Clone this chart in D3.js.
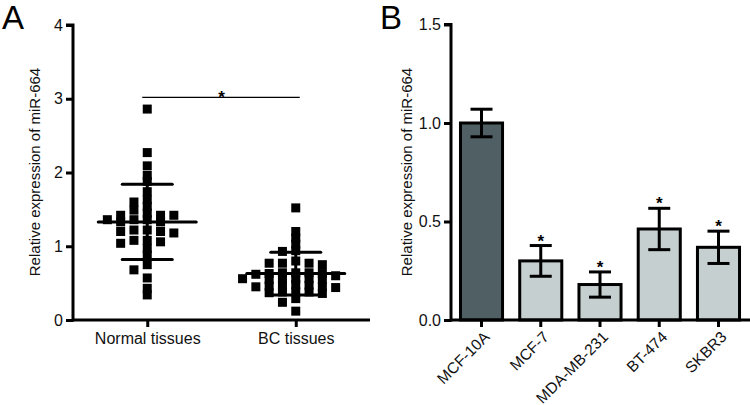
<!DOCTYPE html>
<html><head><meta charset="utf-8">
<script src="https://cdn.jsdelivr.net/npm/d3@7"></script>
<style>
body{margin:0;background:#fff;}
svg{display:block;font-family:"Liberation Sans",Arial,sans-serif;}
</style></head>
<body>
<svg id="chart" width="750" height="405"></svg>
<script>
// ---------- Panel A data ----------
const groupsA = ["Normal tissues", "BC tissues"];
const normalValues = [2.86, 2.27, 2.09, 1.96, 1.88, 1.74, 1.63, 1.60, 1.54, 1.49, 1.45, 1.42, 1.42, 1.42,
  1.36, 1.36, 1.33, 1.33, 1.36, 1.22, 1.20, 1.20, 1.18, 1.22, 1.08, 1.08, 1.04, 1.06, 0.97, 0.88,
  0.75, 0.68, 0.57, 0.43, 0.34];
const bcValues = [1.52, 1.20, 1.11, 1.03, 0.93, 0.94, 0.77, 0.77, 0.75, 0.77, 0.80, 0.64, 0.64, 0.63,
  0.62, 0.64, 0.63, 0.60, 0.56, 0.56, 0.55, 0.56, 0.56, 0.55, 0.47, 0.45, 0.47, 0.48, 0.46, 0.45,
  0.44, 0.38, 0.36, 0.37, 0.38, 0.38, 0.29, 0.24, 0.12];
const groupMeans = [1.33, 0.63];
const groupSD = [0.51, 0.29];
const yTicksA = [0, 1, 2, 3, 4];
const yLabel = "Relative expression of miR-664";

// ---------- Panel B data ----------
const cellLines = ["MCF-10A", "MCF-7", "MDA-MB-231", "BT-474", "SKBR3"];
const barValues = [1.00, 0.30, 0.18, 0.462, 0.369];
const barErrors = [0.07, 0.078, 0.064, 0.105, 0.082];
const barSignif = ["", "*", "*", "*", "*"];
const yTicksB = [0, 0.5, 1.0, 1.5];

const svg = d3.select("#chart");
const AX = "#000";
const FS = 16;

function styleAxis(a) {
  a.selectAll(".domain").attr("stroke", AX).attr("stroke-width", 3);
  a.selectAll(".tick line").attr("stroke", AX).attr("stroke-width", 3);
  a.selectAll("text").attr("font-size", FS).attr("fill", "#111")
    .attr("font-family", "Liberation Sans, Arial, sans-serif");
}

// ================= Panel A =================
const yA = d3.scaleLinear().domain([0, 4]).range([320, 25]);
const xA = d3.scalePoint().domain(groupsA).range([73, 370]).padding(0.5);
const gA = svg.append("g");

gA.append("text").attr("x", 2).attr("y", 29).attr("font-size", 33).text("A");

const yAxisA = gA.append("g").attr("transform", "translate(73,0)")
  .call(d3.axisLeft(yA).tickValues(yTicksA).tickFormat(d3.format("d")).tickSize(7).tickPadding(3));
const xAxisA = gA.append("g").attr("transform", "translate(0,320)")
  .call(d3.axisBottom(xA).tickSize(7).tickPadding(6));
styleAxis(yAxisA); styleAxis(xAxisA);
xAxisA.select(".domain").attr("d", "M73,0H370");
yAxisA.select(".domain").attr("d", "M-7,25H0V321.5");

gA.append("text").attr("transform", "translate(40,172) rotate(-90)")
  .attr("text-anchor", "middle").attr("font-size", 15).attr("fill", "#111").text(yLabel);

// beeswarm-style column layout
const SQ = 9, STEP = 13.3, MINDY = 5.8;
function layout(values) {
  const placed = [];
  const order = values.map((v, i) => i).sort((a, b) => values[b] - values[a]);
  order.forEach(i => {
    const py = yA(values[i]);
    for (let k = 0; k < 20; k++) {
      const slot = k === 0 ? 0 : (k % 2 ? -Math.ceil(k / 2) : Math.ceil(k / 2));
      const hit = placed.some(p => p.slot === slot && Math.abs(p.py - py) < MINDY);
      if (!hit) { placed.push({ slot, py, v: values[i] }); break; }
    }
  });
  return placed;
}
[normalValues, bcValues].forEach((vals, gi) => {
  const cx = xA(groupsA[gi]);
  const pts = layout(vals);
  gA.append("g").selectAll("rect").data(pts).join("rect")
    .attr("x", d => cx + d.slot * STEP - SQ / 2)
    .attr("y", d => yA(d.v) - SQ / 2)
    .attr("width", SQ).attr("height", SQ).attr("fill", "#000");
  const m = groupMeans[gi], s = groupSD[gi];
  const lg = gA.append("g").attr("stroke", "#000").attr("stroke-width", 3).attr("stroke-linecap", "round");
  lg.append("line").attr("x1", cx - 49).attr("x2", cx + 49).attr("y1", yA(m)).attr("y2", yA(m));
  lg.append("line").attr("x1", cx - 25).attr("x2", cx + 25).attr("y1", yA(m + s)).attr("y2", yA(m + s));
  lg.append("line").attr("x1", cx - 25).attr("x2", cx + 25).attr("y1", yA(m - s)).attr("y2", yA(m - s));
  lg.append("line").attr("x1", cx).attr("x2", cx).attr("y1", yA(m + s)).attr("y2", yA(m - s));
});

// significance bar
const sigY = yA(3.02);
gA.append("line").attr("x1", xA(groupsA[0]) - 5).attr("x2", xA(groupsA[1]) + 4)
  .attr("y1", sigY).attr("y2", sigY).attr("stroke", "#000").attr("stroke-width", 1.3);
gA.append("text").attr("x", (xA(groupsA[0]) + xA(groupsA[1])) / 2).attr("y", sigY + 6)
  .attr("text-anchor", "middle").attr("font-size", 17).attr("font-weight", "bold").text("*");

// ================= Panel B =================
const yB = d3.scaleLinear().domain([0, 1.5]).range([320, 24.5]);
const xB = d3.scaleBand().domain(cellLines).range([451, 749]).paddingInner(0.29).paddingOuter(0.16);
const gB = svg.append("g");

gB.append("text").attr("x", 380).attr("y", 29).attr("font-size", 33).text("B");

const bars = gB.append("g").selectAll("g").data(cellLines).join("g");
bars.append("rect")
  .attr("x", d => xB(d)).attr("width", xB.bandwidth())
  .attr("y", (d, i) => yB(barValues[i])).attr("height", (d, i) => yB(0) - yB(barValues[i]))
  .attr("fill", (d, i) => i === 0 ? "#505f63" : "#c6cfd0")
  .attr("stroke", "#000").attr("stroke-width", 3);
const CAP = 11;
bars.each(function (d, i) {
  const g = d3.select(this), cx = xB(d) + xB.bandwidth() / 2;
  const hi = yB(barValues[i] + barErrors[i]), lo = yB(barValues[i] - barErrors[i]);
  const e = g.append("g").attr("stroke", "#000").attr("stroke-width", 3);
  e.append("line").attr("x1", cx).attr("x2", cx).attr("y1", hi).attr("y2", lo);
  e.append("line").attr("x1", cx - CAP).attr("x2", cx + CAP).attr("y1", hi).attr("y2", hi);
  e.append("line").attr("x1", cx - CAP).attr("x2", cx + CAP).attr("y1", lo).attr("y2", lo);
  if (barSignif[i]) g.append("text").attr("x", cx).attr("y", hi + 1).attr("text-anchor", "middle")
    .attr("font-size", 17).attr("font-weight", "bold").text(barSignif[i]);
});

const yAxisB = gB.append("g").attr("transform", "translate(451,0)")
  .call(d3.axisLeft(yB).tickValues(yTicksB).tickFormat(d3.format(".1f")).tickSize(7).tickPadding(3));
const xAxisB = gB.append("g").attr("transform", "translate(0,320)")
  .call(d3.axisBottom(xB).tickSize(7));
styleAxis(yAxisB); styleAxis(xAxisB);
xAxisB.select(".domain").attr("d", "M451,0H750");
yAxisB.select(".domain").attr("d", "M-7,24.5H0V321.5");
xAxisB.selectAll(".tick text")
  .attr("font-size", 15.5)
  .attr("text-anchor", "end").attr("dy", 0).attr("y", 0)
  .attr("transform", "translate(9,18) rotate(-45)");

gB.append("text").attr("transform", "translate(412,172) rotate(-90)")
  .attr("text-anchor", "middle").attr("font-size", 15).attr("fill", "#111").text(yLabel);
</script>
</body></html>
